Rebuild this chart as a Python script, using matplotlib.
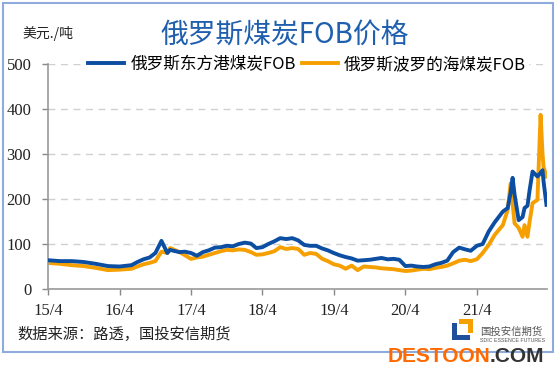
import pandas as pd
import matplotlib.pyplot as plt
import matplotlib.patches as patches

plt.rcParams['font.family'] = ['Noto Sans CJK SC', 'DejaVu Sans']

### DATA
dates = ["2015-04-01", "2015-06-01", "2015-08-01", "2015-10-01", "2015-12-01", "2016-02-01",
         "2016-04-01", "2016-06-01", "2016-07-01", "2016-08-01", "2016-09-01", "2016-10-01",
         "2016-11-01", "2016-12-01", "2016-12-15", "2017-01-01", "2017-02-01", "2017-03-01",
         "2017-04-01", "2017-05-01", "2017-06-01", "2017-07-01", "2017-08-01", "2017-09-01",
         "2017-10-01", "2017-11-01", "2017-12-01", "2018-01-01", "2018-02-01", "2018-03-01",
         "2018-04-01", "2018-05-01", "2018-06-01", "2018-07-01", "2018-08-01", "2018-09-01",
         "2018-10-01", "2018-11-01", "2018-12-01", "2019-01-01", "2019-02-01", "2019-03-01",
         "2019-04-01", "2019-05-01", "2019-06-01", "2019-07-01", "2019-08-01", "2019-09-01",
         "2019-10-01", "2019-11-01", "2019-12-01", "2020-01-01", "2020-02-01", "2020-03-01",
         "2020-04-01", "2020-05-01", "2020-06-01", "2020-07-01", "2020-08-01", "2020-09-01",
         "2020-10-01", "2020-11-01", "2020-12-01", "2021-01-01", "2021-02-01", "2021-03-01",
         "2021-04-01", "2021-05-01", "2021-06-01", "2021-07-01", "2021-08-12", "2021-09-06",
         "2021-09-21", "2021-10-01", "2021-10-11", "2021-11-01", "2021-11-21", "2021-12-01",
         "2021-12-16", "2021-12-27", "2022-01-11", "2022-02-05", "2022-02-21", "2022-03-03",
         "2022-03-08", "2022-03-23"]

vostochny = [64, 62, 62, 60, 56, 51,
             50, 53, 60, 66, 70, 80,
             107, 80, 87, 85, 82, 83,
             80, 74, 82, 86, 92, 93,
             96, 95, 100, 103, 101, 91,
             93, 100, 106, 113, 111, 113,
             108, 98, 96, 96, 90, 86,
             80, 75, 71, 68, 63, 64,
             65, 67, 69, 66, 67, 65,
             51, 52, 50, 49, 50, 55,
             58, 63, 82, 92, 88, 85,
             96, 100, 128, 148, 172, 180,
             215, 247, 210, 153, 160, 180,
             185, 220, 261, 250, 258, 264,
             240, 187]

baltic = [58, 56, 53, 51, 47, 42,
          43, 45, 50, 55, 58, 62,
          83, 80, 91, 88, 82, 75,
          67, 70, 72, 76, 80, 84,
          87, 86, 88, 87, 82, 76,
          77, 80, 84, 93, 89, 91,
          89, 76, 80, 78, 67, 62,
          55, 52, 45, 52, 42, 50,
          49, 48, 46, 45, 44, 42,
          40, 41, 43, 45, 44, 47,
          49, 52, 57, 63, 65, 62,
          66, 80, 98, 120, 142, 176,
          235, 190, 146, 136, 116, 142,
          116, 150, 191, 198, 387, 300,
          272, 250]

tick_dates = ["2015-04-01", "2016-04-01", "2017-04-01", "2018-04-01",
              "2019-04-01", "2020-04-01", "2021-04-01"]
tick_labels = ["15/4", "16/4", "17/4", "18/4", "19/4", "20/4", "21/4"]

x = pd.to_datetime(dates)

fig = plt.figure(figsize=(5.58, 3.78), dpi=100)
ax = fig.add_axes([0.086, 0.2354, 0.894, 0.5953])

l1, = ax.plot(x, vostochny, color="#0B4EA2", lw=2.8, label="俄罗斯东方港煤炭FOB", zorder=3)
l2, = ax.plot(x, baltic, color="#F5A000", lw=2.8, label="俄罗斯波罗的海煤炭FOB", zorder=2)

ax.set_ylim(0, 500)
ax.set_xlim(pd.Timestamp("2015-04-01"), pd.Timestamp("2022-03-25"))
ax.set_yticks([0, 100, 200, 300, 400, 500])
ax.set_xticks(pd.to_datetime(tick_dates))
ax.set_xticklabels(tick_labels)
for lab in ax.get_xticklabels() + ax.get_yticklabels():
    lab.set_fontfamily("Liberation Serif")
    lab.set_fontsize(12)
    lab.set_color("#222222")
ax.tick_params(axis="both", direction="out", length=4, color="#888888", width=1)
ax.tick_params(axis="x", pad=6)
ax.tick_params(axis="y", pad=8)
ax.yaxis.grid(True, ls=(0, (5, 4)), color="#D0D0D0", lw=1)
ax.set_axisbelow(True)
for s in ["top", "right"]:
    ax.spines[s].set_visible(False)
for s in ["left", "bottom"]:
    ax.spines[s].set_color("#999999")
    ax.spines[s].set_linewidth(1.2)

leg = fig.legend(handles=[l1, l2], loc="center", bbox_to_anchor=(0.55, 0.83), ncol=2,
                 frameon=True, framealpha=1, edgecolor="white", fancybox=False,
                 handlelength=2.2, handletextpad=0.35, columnspacing=0.35, borderpad=0.1,
                 prop={"size": 12, "style": "italic"})

fig.text(0.51, 0.905, "俄罗斯煤炭FOB价格", ha="center", va="center", fontsize=20, color="#1F5FAE")
fig.text(0.04, 0.912, "美元./吨", ha="left", va="center", fontsize=10, color="#222222")
fig.text(0.032, 0.115, "数据来源：路透，国投安信期货", ha="left", va="center", fontsize=11, color="#222222")

# logo
logo = [((0.810, 0.1005), 0.009, 0.045, "#1F4E9A"),
        ((0.810, 0.1005), 0.032, 0.0132, "#1F4E9A"),
        ((0.8226, 0.1429), 0.0251, 0.0132, "#F5A000"),
        ((0.8387, 0.119), 0.009, 0.037, "#F5A000")]
for xy, w, h, c in logo:
    fig.add_artist(patches.Rectangle(xy, w, h, transform=fig.transFigure,
                                     facecolor=c, edgecolor="none"))
fig.text(0.86, 0.122, "国投安信期货", ha="left", va="center", fontsize=7.5, color="#555555")
fig.text(0.86, 0.098, "SDIC ESSENCE FUTURES", ha="left", va="center", fontsize=3.8,
         color="#555555", family="Liberation Sans")

# frame
fig.add_artist(patches.Rectangle((0.006, 0.069), 0.985, 0.923, transform=fig.transFigure,
                                 fill=False, edgecolor="#8FAADC", lw=1.5))

# watermark
fig.text(0.878, 0.058, "DESTOON", ha="right", va="center", fontsize=15, fontweight="bold",
         color="#FF6A00", family="Liberation Sans")
fig.text(0.878, 0.058, ".COM", ha="left", va="center", fontsize=15, fontweight="bold",
         color="#333333", family="Liberation Sans")

fig.savefig("out.png", dpi=100)
